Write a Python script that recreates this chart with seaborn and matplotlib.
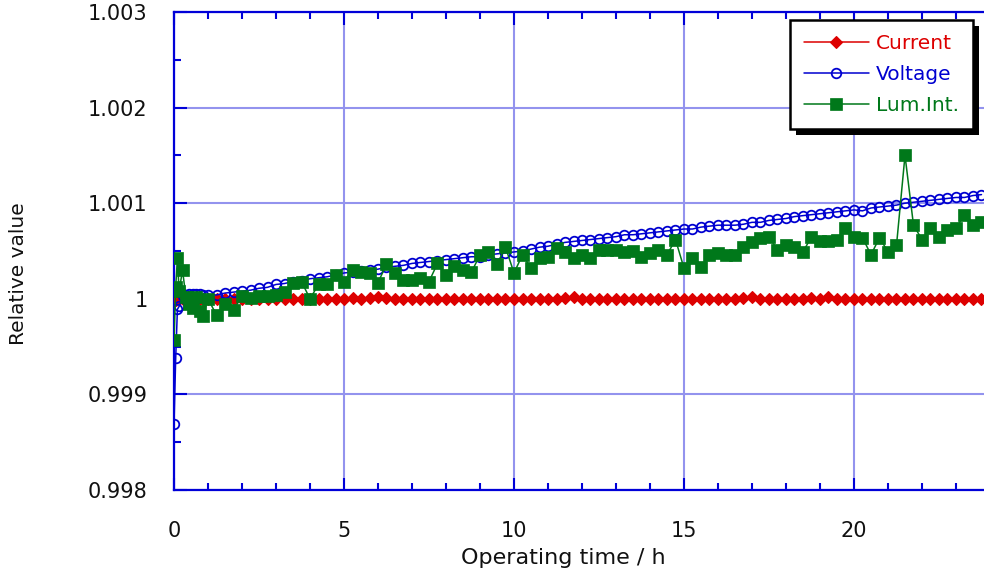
import matplotlib
matplotlib.use("Agg")
import matplotlib.pyplot as plt
import matplotlib.patches as mpatches
from matplotlib.ticker import MultipleLocator, FixedLocator
import seaborn as sns

# ---------------- data ----------------
time_h = [0, 0.05, 0.1, 0.15, 0.25, 0.35, 0.45, 0.55, 0.65, 0.75, 0.85, 1.0,
          1.25, 1.5, 1.75, 2.0, 2.25, 2.5, 2.75, 3.0,
          3.25, 3.5, 3.75, 4.0, 4.25, 4.5, 4.75, 5.0,
          5.25, 5.5, 5.75, 6.0, 6.25, 6.5, 6.75, 7.0,
          7.25, 7.5, 7.75, 8.0, 8.25, 8.5, 8.75, 9.0,
          9.25, 9.5, 9.75, 10.0, 10.25, 10.5, 10.75, 11.0,
          11.25, 11.5, 11.75, 12.0, 12.25, 12.5, 12.75, 13.0,
          13.25, 13.5, 13.75, 14.0, 14.25, 14.5, 14.75, 15.0,
          15.25, 15.5, 15.75, 16.0, 16.25, 16.5, 16.75, 17.0,
          17.25, 17.5, 17.75, 18.0, 18.25, 18.5, 18.75, 19.0,
          19.25, 19.5, 19.75, 20.0, 20.25, 20.5, 20.75, 21.0,
          21.25, 21.5, 21.75, 22.0, 22.25, 22.5, 22.75, 23.0,
          23.25, 23.5, 23.75]

current = [1.00000, 0.99999, 1.00001, 1.00000, 1.00000, 1.00001, 0.99999, 1.00000, 1.00001, 1.00000, 1.00000, 1.00000,
           1.00000, 1.00000, 1.00000, 1.00000, 1.00000, 1.00000, 1.00000, 1.00000,
           1.00000, 1.00000, 1.00000, 1.00000, 1.00000, 1.00000, 1.00000, 1.00000,
           1.00001, 1.00000, 1.00001, 1.00002, 1.00001, 1.00000, 1.00000, 1.00000,
           1.00000, 1.00000, 1.00000, 1.00000, 1.00000, 1.00000, 1.00000, 1.00000,
           1.00000, 1.00000, 1.00000, 1.00000, 1.00000, 1.00000, 1.00000, 1.00000,
           1.00000, 1.00001, 1.00002, 1.00000, 1.00000, 1.00000, 1.00000, 1.00000,
           1.00000, 1.00000, 1.00000, 1.00000, 1.00000, 1.00000, 1.00000, 1.00000,
           1.00000, 1.00000, 1.00000, 1.00000, 1.00000, 1.00000, 1.00001, 1.00002,
           1.00000, 1.00000, 1.00000, 1.00000, 1.00000, 1.00000, 1.00001, 1.00000,
           1.00002, 1.00000, 1.00000, 1.00000, 1.00000, 1.00000, 1.00000, 1.00000,
           1.00000, 1.00000, 1.00000, 1.00000, 1.00000, 1.00000, 1.00000, 1.00000,
           1.00000, 1.00000, 1.00000]

voltage = [0.99869, 0.99938, 0.99989, 0.99992, 1.00003, 1.00004, 1.00005, 1.00005, 1.00005, 1.00005, 1.00004, 1.00004,
           1.00004, 1.00006, 1.00007, 1.00008, 1.00009, 1.00011, 1.00012, 1.00015,
           1.00016, 1.00018, 1.00019, 1.00021, 1.00022, 1.00023, 1.00025, 1.00027,
           1.00028, 1.00029, 1.00030, 1.00031, 1.00033, 1.00034, 1.00035, 1.00037,
           1.00038, 1.00039, 1.00040, 1.00041, 1.00042, 1.00043, 1.00044, 1.00044,
           1.00046, 1.00047, 1.00048, 1.00049, 1.00050, 1.00052, 1.00054, 1.00055,
           1.00057, 1.00059, 1.00060, 1.00061, 1.00062, 1.00063, 1.00064, 1.00065,
           1.00067, 1.00067, 1.00068, 1.00069, 1.00070, 1.00071, 1.00072, 1.00073,
           1.00073, 1.00075, 1.00076, 1.00077, 1.00077, 1.00077, 1.00078, 1.00080,
           1.00080, 1.00082, 1.00083, 1.00084, 1.00086, 1.00087, 1.00088, 1.00089,
           1.00090, 1.00091, 1.00092, 1.00093, 1.00092, 1.00095, 1.00096, 1.00097,
           1.00098, 1.00100, 1.00101, 1.00102, 1.00103, 1.00104, 1.00105, 1.00106,
           1.00106, 1.00108, 1.00109]

lum_int = [0.99957, 1.00012, 1.00043, 1.00008, 1.00030, 1.00002, 0.99995, 0.99990, 1.00002, 0.99987, 0.99982, 1.00000,
           0.99983, 0.99995, 0.99988, 1.00003, 1.00001, 1.00003, 1.00003, 1.00004,
           1.00007, 1.00017, 1.00018, 1.00000, 1.00015, 1.00015, 1.00025, 1.00018,
           1.00030, 1.00028, 1.00027, 1.00017, 1.00036, 1.00027, 1.00020, 1.00020,
           1.00022, 1.00018, 1.00037, 1.00025, 1.00034, 1.00030, 1.00028, 1.00046,
           1.00049, 1.00036, 1.00054, 1.00027, 1.00046, 1.00032, 1.00043, 1.00044,
           1.00053, 1.00049, 1.00043, 1.00046, 1.00043, 1.00051, 1.00051, 1.00051,
           1.00049, 1.00050, 1.00044, 1.00048, 1.00051, 1.00046, 1.00062, 1.00032,
           1.00043, 1.00033, 1.00046, 1.00048, 1.00046, 1.00046, 1.00054, 1.00059,
           1.00064, 1.00065, 1.00051, 1.00056, 1.00054, 1.00049, 1.00065, 1.00060,
           1.00060, 1.00062, 1.00074, 1.00065, 1.00064, 1.00046, 1.00064, 1.00049,
           1.00056, 1.00150, 1.00077, 1.00062, 1.00074, 1.00065, 1.00072, 1.00074,
           1.00088, 1.00077, 1.00080]

series_names = ["Current", "Voltage", "Lum.Int."]
x_ticks = [0, 5, 10, 15, 20]
x_tick_labels = ["0", "5", "10", "15", "20"]
y_ticks = [0.998, 0.999, 1.000, 1.001, 1.002, 1.003]
y_tick_labels = ["0.998", "0.999", "1", "1.001", "1.002", "1.003"]

# ---------------- style ----------------
sns.set_style("white")
plt.rcParams["font.family"] = ["DejaVu Sans"]

RED = "#dd0000"
BLUE = "#0000d0"
GREEN = "#00781a"
AXIS = "#0000d8"
GRID = "#9393ee"

W, H = 984, 577
fig = plt.figure(figsize=(W / 100, H / 100), dpi=100)
x_max = 25.0
px_per_h = 34.0
ax_left, ax_top, ax_bottom = 174, 12, 490
ax_w_px = x_max * px_per_h
ax_h_px = ax_bottom - ax_top
ax = fig.add_axes([ax_left / W, (H - ax_bottom) / H, ax_w_px / W, ax_h_px / H])

sns.lineplot(x=time_h, y=current, ax=ax, color=RED, marker="D", markersize=6.0,
             markeredgecolor=RED, markerfacecolor=RED, markeredgewidth=0.8,
             linewidth=1.1, label=series_names[0], zorder=3)
sns.lineplot(x=time_h, y=voltage, ax=ax, color=BLUE, marker="o", markersize=6.9,
             markeredgecolor=BLUE, markerfacecolor="none", markeredgewidth=1.3,
             linewidth=1.1, label=series_names[1], zorder=4)
sns.lineplot(x=time_h, y=lum_int, ax=ax, color=GREEN, marker="s", markersize=8.3,
             markeredgecolor=GREEN, markerfacecolor=GREEN, markeredgewidth=0.5,
             linewidth=1.1, label=series_names[2], zorder=5)

ax.set_xlim(0, x_max)
ax.set_ylim(0.998, 1.003)
ax.xaxis.set_major_locator(FixedLocator(x_ticks))
ax.set_xticklabels(x_tick_labels)
ax.xaxis.set_minor_locator(MultipleLocator(1))
ax.yaxis.set_major_locator(FixedLocator(y_ticks))
ax.set_yticklabels(y_tick_labels)
ax.yaxis.set_minor_locator(MultipleLocator(0.0005))

ax.grid(True, which="major", color=GRID, linewidth=1.5)
ax.set_axisbelow(True)

for side in ["left", "bottom", "top"]:
    ax.spines[side].set_visible(True)
    ax.spines[side].set_color(AXIS)
    ax.spines[side].set_linewidth(1.6)
ax.spines["right"].set_visible(False)

ax.tick_params(which="both", direction="in", color=AXIS, top=True, right=False,
               left=True, bottom=True, width=1.5)
ax.tick_params(which="major", length=9)
ax.tick_params(which="minor", length=5)
ax.tick_params(axis="x", which="major", pad=22, labelsize=15, labelcolor="#111111")
ax.tick_params(axis="y", which="major", pad=19, labelsize=15, labelcolor="#111111")

ax.set_xlabel("Operating time / h", fontsize=16, color="#111111")
ax.xaxis.set_label_coords((563 - ax_left) / ax_w_px, -(548 - ax_bottom) / ax_h_px)
ax.set_ylabel("Relative value", fontsize=14.5, color="#111111")
ax.yaxis.set_label_coords(-(ax_left - 28) / ax_w_px, (ax_bottom - 274) / ax_h_px)

leg = ax.legend(loc="upper left", bbox_to_anchor=(790 / W, 1 - 20 / H),
                bbox_transform=fig.transFigure, borderaxespad=0,
                fontsize=14.5, frameon=True, fancybox=False, framealpha=1,
                edgecolor="black", handlelength=3.2, handletextpad=0.35,
                labelspacing=0.6, borderpad=0.7)
leg.get_frame().set_linewidth(1.8)
leg.set_zorder(10)
for txt, col in zip(leg.get_texts(), [RED, BLUE, GREEN]):
    txt.set_color(col)

fig.canvas.draw()
bb = leg.get_window_extent()
shadow = mpatches.Rectangle((bb.x0 + 6, bb.y0 - 6), bb.width, bb.height,
                            transform=None, facecolor="black", edgecolor="none",
                            zorder=9.5, clip_on=False)
ax.add_artist(shadow)

fig.savefig("out.png", dpi=100)
